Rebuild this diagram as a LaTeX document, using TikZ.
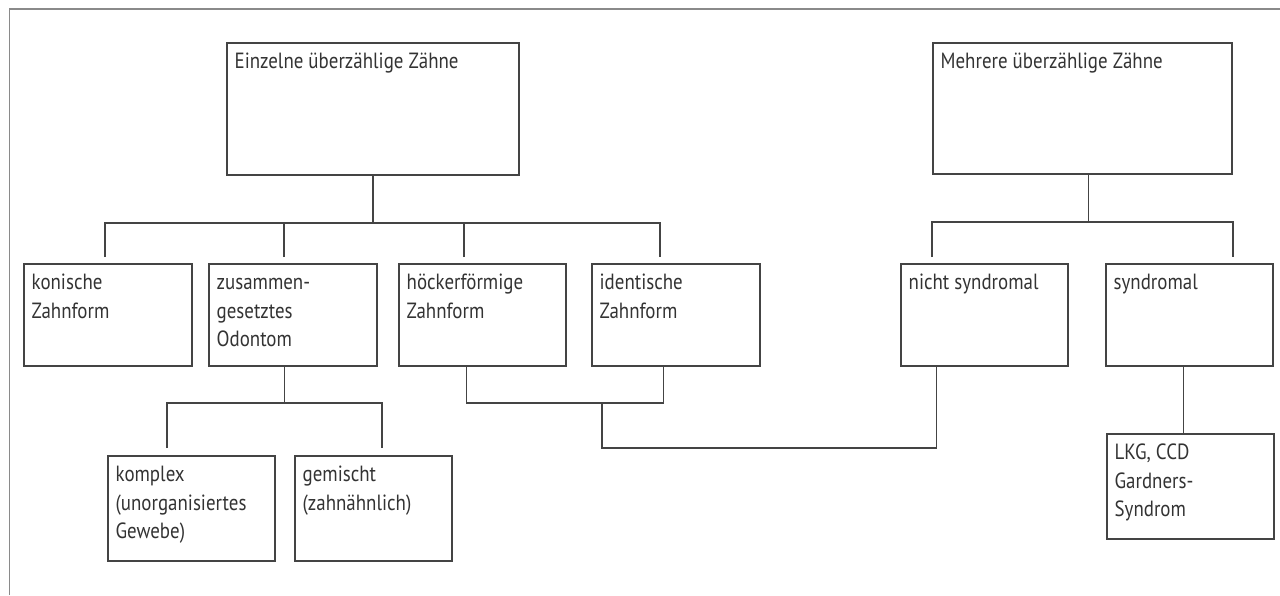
\documentclass[tikz,border=0pt]{standalone}
\usepackage{fontspec}
\setmainfont{PT Sans}[FakeStretch=0.86]
\usetikzlibrary{calc}
\definecolor{txtc}{HTML}{333333}
\definecolor{linec}{HTML}{444444}
\definecolor{framec}{HTML}{8A8A8A}
\tikzset{
  boxst/.style={draw=linec, line width=1.1pt, rectangle, inner sep=0pt},
  txtst/.style={anchor=north west, inner xsep=8pt, inner ysep=0pt, align=left,
    font=\fontsize{22}{28.5}\selectfont, text=txtc},
  conn/.style={draw=linec, line width=1.1pt},
  framest/.style={draw=framec, line width=1.5pt}
}
\newcommand\mkbox[6]{%
  \node[boxst, minimum width={(#4-#2)*1pt}, minimum height={(#5-#3)*1pt}] (#1) at ({(#2+#4)/2},{(#3+#5)/2}) {};
  \node[txtst] (#1txt) at (#1.north west) {\rule{0pt}{26pt}#6};
}
\begin{document}
\begin{tikzpicture}[x=1pt,y=-1pt]
\useasboundingbox (0,0) rectangle (1280,595);
\draw[framest] (9.5,595) -- (9.5,9) -- (1280,9);

\mkbox{E}{227}{43}{519}{175}{Einzelne überzählige Zähne}
\mkbox{M}{933}{43}{1232}{174}{Mehrere überzählige Zähne}
\mkbox{K}{24}{264}{192}{366}{konische\\Zahnform}
\mkbox{Z}{209}{264}{377}{366}{zusammen-\\gesetztes\\Odontom}
\mkbox{H}{399}{264}{566}{366}{höckerförmige\\Zahnform}
\mkbox{I}{592}{264}{760}{366}{identische\\Zahnform}
\mkbox{N}{901}{264}{1068}{366}{nicht syndromal}
\mkbox{S}{1106}{264}{1273}{366}{syndromal}
\mkbox{X}{108}{456}{275}{561}{komplex\\(unorganisiertes\\Gewebe)}
\mkbox{G}{295}{456}{452}{561}{gemischt\\(zahnähnlich)}
\mkbox{L}{1107}{434}{1274}{539}{LKG, CCD\\Gardners-\\Syndrom}

% free ends of the connectors above the boxes
\coordinate (Kt) at (105,257);
\coordinate (Zt) at (284,257);
\coordinate (Ht) at (464,257);
\coordinate (It) at (660,257);
\coordinate (Nt) at (932,257);
\coordinate (St) at (1233,257);
\coordinate (Xt) at (167,448);
\coordinate (Gt) at (382,448);
\coordinate (barL) at (0,223);
\coordinate (barR) at (0,222);
\coordinate (barZ) at (0,403);
\coordinate (barN) at (0,448);

% left tree
\draw[conn] (E.south) -- (E.south |- barL);
\draw[conn] (Kt) |- (It |- barL) -- (It);
\draw[conn] (Zt) -- (Zt |- barL);
\draw[conn] (Ht) -- (Ht |- barL);

% right tree
\coordinate (Mb) at ($(M.south west)+(156,0)$);
\draw[conn] (Mb) -- (Mb |- barR);
\draw[conn] (Nt) |- (St |- barR) -- (St);

% odontom
\coordinate (Zb) at ($(Z.south west)+(76,0)$);
\draw[conn] (Zb) -- (Zb |- barZ);
\draw[conn] (Xt) |- (Gt |- barZ) -- (Gt);

% höcker / identisch to nicht syndromal
\coordinate (Hb) at ($(H.south west)+(68,0)$);
\coordinate (Ib) at ($(I.south west)+(72,0)$);
\coordinate (Nb) at ($(N.south west)+(36,0)$);
\coordinate (HIm) at (602,403);
\draw[conn] (Hb) |- (HIm) -| (Ib);
\draw[conn] (HIm) |- (Nb |- barN) -- (Nb);

% syndromal to LKG
\coordinate (Sb) at ($(S.south west)+(78,0)$);
\draw[conn] (Sb) -- (Sb |- L.north);
\end{tikzpicture}
\end{document}
